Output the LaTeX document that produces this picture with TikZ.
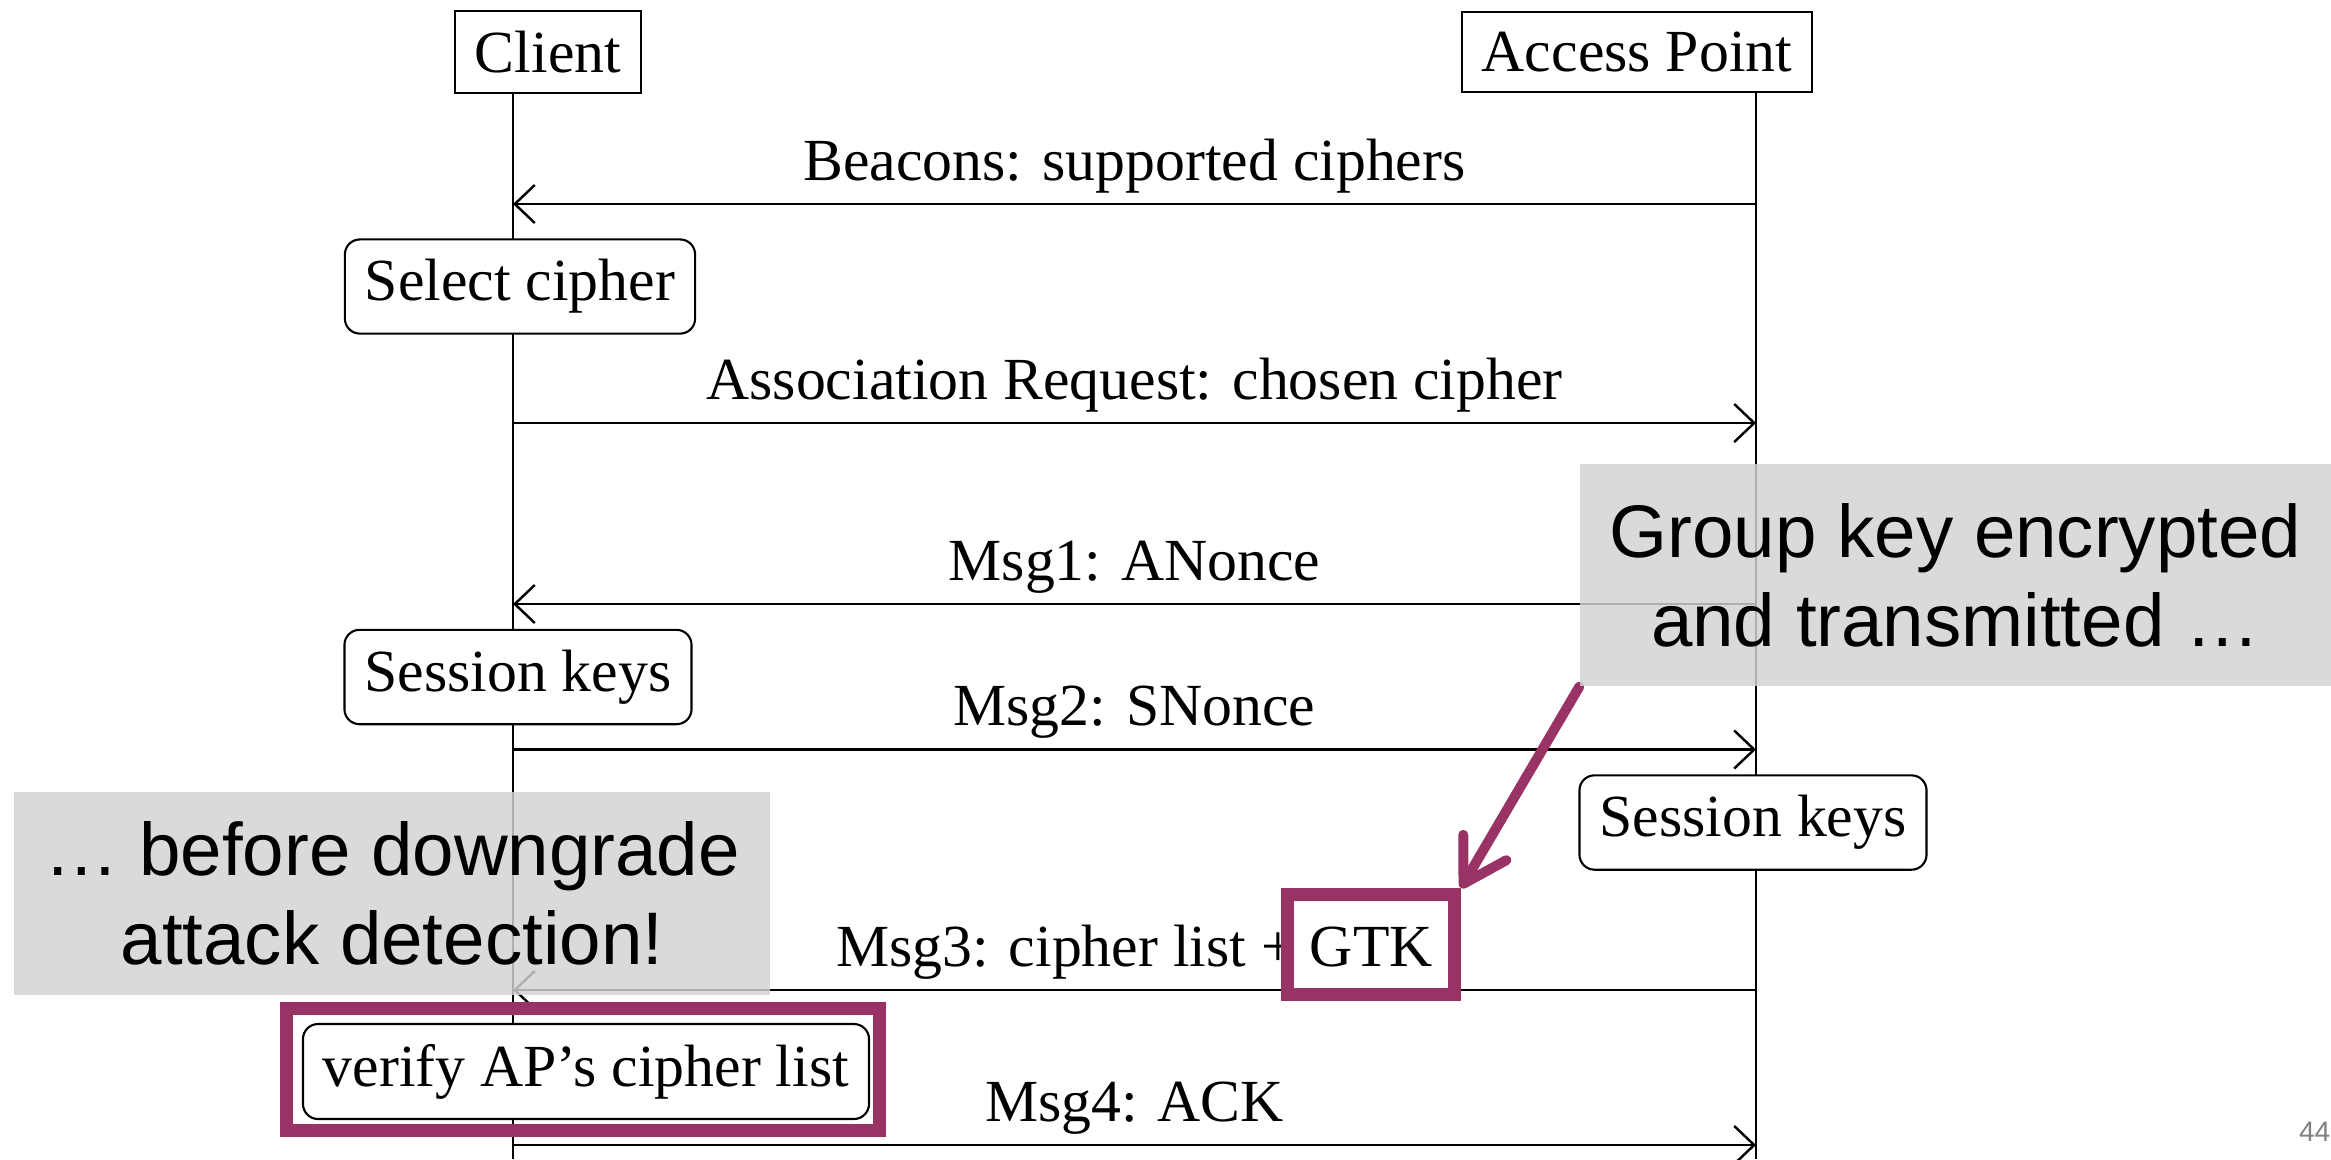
\documentclass[tikz,border=0pt]{standalone}
\usepackage{fontspec}
\setmainfont{Liberation Serif}
\newfontfamily\notefont{Liberation Sans}
\usepackage{tikz}
\usetikzlibrary{positioning, arrows.meta, fit}
\definecolor{plum}{RGB}{153,51,102}
\definecolor{notegray}{RGB}{211,211,211}
\pgfdeclarelayer{front}
\pgfsetlayers{main,front}

\begin{document}
\begin{tikzpicture}[
  font=\fontsize{17}{20}\selectfont,
  >={Straight Barb[length=2mm,width=3.8mm]},
  party/.style={draw, line width=0.6pt, inner sep=2mm},
  act/.style={draw, rounded corners=1.5mm, line width=0.6pt, fill=white, inner sep=2mm},
  life/.style={line width=0.5pt},
  msg/.style={->, line width=0.7pt},
  lbl/.style={anchor=base, yshift=2.4mm},
  note/.style={fill=notegray, fill opacity=0.83, text opacity=1, inner sep=0pt, align=center,
    font=\notefont\fontsize{21.2}{25.3}\selectfont},
  hilite/.style={draw=plum, line width=1.3mm}
]
  \useasboundingbox (0,0) rectangle (23.31,-11.59);

  \node[party] (client) at (5.48,-0.52) {Client};
  \node[party] (ap) at (16.37,-0.52) {Access Point};
  \coordinate (cl) at (5.13,-11.59);
  \coordinate (al) at (17.56,-11.59);

  \draw[life] (client.south -| cl) -- (cl);
  \draw[life] (ap.south -| al) -- (al);

  \draw[msg] (al |- 0,-2.04) -- (cl |- 0,-2.04) node[midway, lbl] (beacons) {Beacons: supported ciphers};
  \draw[msg] (cl |- 0,-4.23) -- (al |- 0,-4.23) node[midway, lbl] (assoc) {Association Request: chosen cipher};
  \draw[msg] (al |- 0,-6.04) -- (cl |- 0,-6.04) node[midway, lbl] (msg1) {Msg1: ANonce};
  \draw[msg] (cl |- 0,-7.495) -- (al |- 0,-7.495) node[midway, lbl] (msg2) {Msg2: SNonce};
  \draw[msg] (al |- 0,-9.90) -- (cl |- 0,-9.90) node[midway, lbl] (msg3) {Msg3: cipher list + GTK};
  \draw[msg] (cl |- 0,-11.45) -- (al |- 0,-11.45) node[midway, lbl] (msg4) {Msg4: ACK};

  \node[act] (select) at (5.20,-2.865) {Select cipher};
  \node[act] (ckeys) at (5.18,-6.77) {Session keys};
  \node[act] (akeys) at (17.53,-8.225) {Session keys};
  \node[act] (verify) at (5.86,-10.715) {verify AP’s cipher list};

  \node[hilite, fit=(verify), inner sep=1.2mm, xshift=-0.3mm, yshift=0.2mm] (verifyframe) {};
  \node[hilite, minimum width=1.67cm, minimum height=1cm, inner sep=0pt] (gtk) at (13.71,-9.445) {};

  \begin{pgfonlayer}{front}
    \node[note, minimum width=7.51cm, minimum height=2.22cm] (grp) at (19.555,-5.75) {Group key encrypted\\and transmitted …};
    \node[note, minimum width=7.56cm, minimum height=2.03cm] (pre) at (3.92,-8.935) {… before downgrade\\attack detection!};
  \end{pgfonlayer}

  \draw[plum, line width=1mm, line cap=round, -{Straight Barb[length=4.2mm,width=5mm,round]}] (grp.south west) -- (gtk.north east);

  \node[anchor=base east, inner sep=0pt, text=black!50, font=\notefont\fontsize{8}{9}\selectfont] (page) at (23.31,-11.41) {44};
\end{tikzpicture}
\end{document}
